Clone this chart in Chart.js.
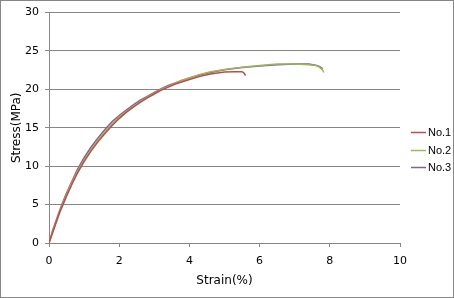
<!DOCTYPE html>
<html lang="en">
<head>
<meta charset="UTF-8">
<title>Stress-Strain</title>
<script src="https://cdn.jsdelivr.net/npm/chart.js@4.4.0/dist/chart.umd.min.js"></script>
<style>
    body { margin: 0; background: #fff; }
    #wrap { width: 454px; height: 298px; position: relative; }
</style>
</head>
<body>
<div id="wrap"><canvas id="c" width="454" height="298"></canvas></div>
<script>
    // --- data ---
    const seriesNames = ['No.1', 'No.2', 'No.3'];
    const seriesColors = ['#BE4B48', '#98B954', '#7D60A0'];

    const strain1 = [0, 0.1, 0.2, 0.3, 0.4, 0.5, 0.6, 0.7, 0.8, 0.9, 1.0, 1.2, 1.4, 1.6, 1.8, 2.0, 2.2, 2.4, 2.6, 2.8, 3.0, 3.2, 3.4, 3.6, 3.8, 4.0, 4.3, 4.6, 5.0, 5.3, 5.5, 5.55, 5.6];
    const stress1 = [0, 1.3, 2.6, 3.9, 5.0, 6.1, 7.1, 8.1, 9.0, 9.8, 10.6, 12.0, 13.2, 14.3, 15.3, 16.2, 17.0, 17.7, 18.3, 18.9, 19.4, 19.9, 20.3, 20.7, 21.0, 21.3, 21.7, 22.0, 22.25, 22.3, 22.3, 22.15, 21.8];

    const strain2 = [0, 0.1, 0.2, 0.3, 0.4, 0.5, 0.6, 0.7, 0.8, 0.9, 1.0, 1.2, 1.4, 1.6, 1.8, 2.0, 2.2, 2.4, 2.6, 2.8, 3.0, 3.2, 3.4, 3.6, 3.8, 4.0, 4.3, 4.6, 5.0, 5.5, 6.0, 6.5, 7.0, 7.4, 7.6, 7.7, 7.8, 7.83];
    const stress2 = [0, 1.4, 2.7, 4.0, 5.2, 6.3, 7.3, 8.3, 9.2, 10.0, 10.8, 12.2, 13.4, 14.5, 15.5, 16.4, 17.1, 17.8, 18.4, 19.0, 19.5, 20.0, 20.4, 20.8, 21.2, 21.5, 21.95, 22.3, 22.6, 22.9, 23.1, 23.3, 23.3, 23.2, 23.1, 22.9, 22.5, 22.2];

    const strain3 = [0, 0.05, 0.1, 0.2, 0.3, 0.4, 0.5, 0.6, 0.7, 0.8, 0.9, 1.0, 1.2, 1.4, 1.6, 1.8, 2.0, 2.2, 2.4, 2.6, 2.8, 3.0, 3.2, 3.4, 3.6, 3.8, 4.0, 4.3, 4.6, 5.0, 5.5, 6.0, 6.5, 7.0, 7.4, 7.6, 7.7, 7.8];
    const stress3 = [0, 0.8, 1.6, 2.9, 4.2, 5.4, 6.5, 7.5, 8.5, 9.5, 10.3, 11.1, 12.5, 13.7, 14.8, 15.8, 16.6, 17.3, 18.0, 18.6, 19.1, 19.6, 20.1, 20.5, 20.85, 21.2, 21.5, 21.9, 22.2, 22.55, 22.85, 23.05, 23.2, 23.3, 23.3, 23.15, 23.0, 22.7];

    const xTitle = 'Strain(%)';
    const yTitle = 'Stress(MPa)';

    const strains = [strain1, strain2, strain3];
    const stresses = [stress1, stress2, stress3];

    const FONT = { family: "'DejaVu Sans', sans-serif", size: 11 };
    const TITLE_FONT = { family: "'DejaVu Sans', sans-serif", size: 12 };
    const LEGEND_FONT = "11px 'Liberation Sans', sans-serif";
    const AXIS_GRAY = '#868686';

    // frame round the whole picture + legend at the right
    const framePlugin = {
        id: 'frame',
        beforeDraw(chart) {
            const ctx = chart.ctx;
            ctx.save();
            ctx.fillStyle = '#fff';
            ctx.fillRect(0, 0, chart.width, chart.height);
            ctx.strokeStyle = AXIS_GRAY;
            ctx.lineWidth = 1;
            ctx.strokeRect(0.5, 0.5, chart.width - 1, chart.height - 1);
            ctx.restore();
        },
        afterDraw(chart) {
            const ctx = chart.ctx;
            const area = chart.chartArea;
            const x0 = area.right + 11;
            const midY = (area.top + area.bottom) / 2;
            ctx.save();
            ctx.font = LEGEND_FONT;
            ctx.textBaseline = 'middle';
            ctx.fillStyle = '#000';
            chart.data.datasets.forEach((ds, i) => {
                const y = Math.round(midY + (i - 1) * 17.5 + 22) + 0.5;
                ctx.strokeStyle = ds.borderColor;
                ctx.lineWidth = 1.5;
                ctx.beginPath();
                ctx.moveTo(x0, y);
                ctx.lineTo(x0 + 15, y);
                ctx.stroke();
                ctx.fillText(ds.label, x0 + 17, y);
            });
            ctx.restore();
        }
    };

    new Chart(document.getElementById('c'), {
        type: 'scatter',
        data: {
            datasets: seriesNames.map((name, i) => ({
                label: name,
                data: strains[i].map((x, k) => ({ x: x, y: stresses[i][k] })),
                showLine: true,
                borderColor: seriesColors[i],
                backgroundColor: seriesColors[i],
                borderWidth: 1.5,
                pointRadius: 0,
                tension: 0
            }))
        },
        options: {
            responsive: false,
            animation: false,
            layout: { padding: { top: 10, right: 54, bottom: 0, left: 0 } },
            plugins: {
                legend: { display: false },
                tooltip: { enabled: false }
            },
            scales: {
                x: {
                    type: 'linear', min: 0, max: 10,
                    ticks: { stepSize: 2, color: '#000', font: FONT, padding: 8 },
                    grid: { drawOnChartArea: false, drawTicks: true, tickLength: 4, color: AXIS_GRAY },
                    border: { color: AXIS_GRAY },
                    title: { display: true, text: xTitle, color: '#000', font: TITLE_FONT, padding: { top: 0, bottom: 10 } },
                    afterFit(s) { s.height = 55; }
                },
                y: {
                    type: 'linear', min: 0, max: 30,
                    ticks: { stepSize: 5, color: '#000', font: FONT, padding: 6 },
                    grid: { color: AXIS_GRAY, tickLength: 4 },
                    border: { color: AXIS_GRAY },
                    title: { display: true, text: yTitle, color: '#000', font: TITLE_FONT, padding: { top: 10, bottom: 0 } },
                    afterFit(s) { s.width = 49; }
                }
            }
        },
        plugins: [framePlugin]
    });
</script>
</body>
</html>
